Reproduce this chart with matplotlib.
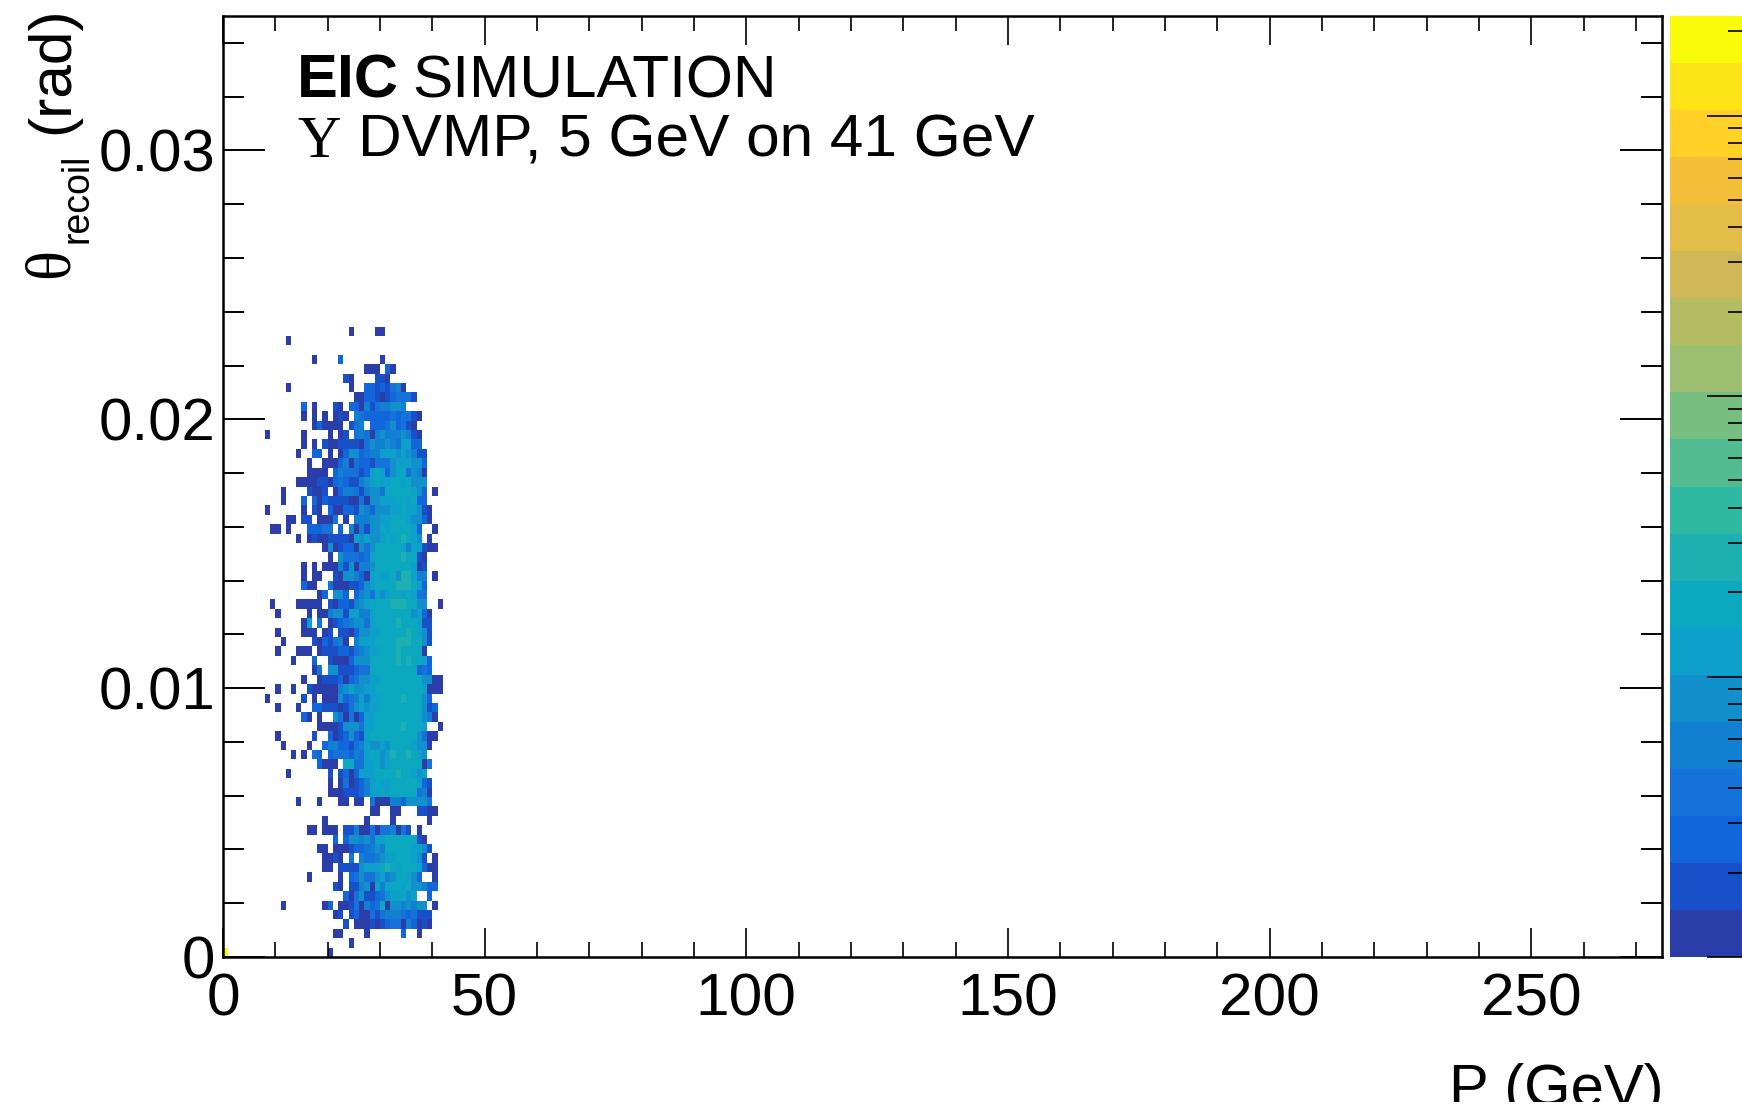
import numpy as np
import matplotlib
matplotlib.use('Agg')
from matplotlib import pyplot as plt
from matplotlib.colors import ListedColormap, BoundaryNorm
from matplotlib.transforms import Bbox, TransformedBbox

W, H = 1742, 1115

# Band colours of the palette, bottom to top
band_colors = ['#2a3da8', '#1750c8', '#1266dc', '#1472d8', '#1280d0',
               '#1290cc', '#0ca0ca', '#0ca8c0', '#1eb0b0', '#2fb8a2',
               '#52bc90', '#78be80', '#9cbe70', '#b4bc62', '#d0b858',
               '#e4bc48', '#f4bf38', '#ffd028', '#fce418', '#f9f90a']
z_max = 2265

# Counts that each symbol in the rows stands for
counts_of_symbol = {'0': 1, '1': 2, '2': 3, '3': 4, '4': 6,
                    '5': 8, '6': 11, '7': 15, '8': 18, '9': 27}

# Hits, top row first. Columns are P = 8..42 GeV
first_col = 8
rows = [
    '..... ..... ..... .0... .00.. ..... .....',  # 66
    '....0 ..... ..... ..... ..... ..... .....',
    '..... ..... ..... ..... ..... ..... .....',
    '..... ....0 ....2 ..... ..0.. ..... .....',
    '..... ..... ..... ....0 00.20 ..... .....',
    '..... ..... ..... 10... .110. ..... .....',
    '....0 ..... ..... .0..2 21213 40... .....',  # 60
    '..... ..... ..... ..002 21012 3331. .....',
    '..... ..2.0 ...10 .2204 13445 54... .....',
    '..... ..0.0 .0.01 0.432 22223 23310 .....',
    '..... ....0 20000 .134. 22235 2310. .....',
    '0.... ..0.. ..0.0 1.343 04544 45410 .....',
    '..... ..0.0 .1001 11103 54454 36622 .....',
    '..... .0..2 2.0.0 25523 44666 56541 1....',
    '..... ...0. .0002 40322 13335 66655 2....',
    '..... ...00 00.24 33312 67625 67354 0....',
    '..... .0000 11023 21145 67667 86755 5....',  # 50
    '...0. ...10 01.02 44314 55377 77765 2.0..',
    '...0. ..2.2 02111 10030 55666 77672 2....',
    '0.... ..0.1 0.200 22154 25556 67665 10...',
    '....0 0.11. 0003. 0.444 55667 77655 20...',
    '.00.0 ...22 233.2 .4041 55867 77762 ..0..',
    '..... .0.01 00111 10656 55686 79765 .0...',
    '..... ..... .0501 22053 57787 86466 100..',
    '..... ..... ..0.5 33323 67788 89871 0....',
    '..... ..0.0 .0004 15044 57877 88760 1....',
    '..... ..0.0 0..10 55420 67668 59964 4.0..',  # 40
    '..... ..200 ..300 01125 68778 99976 2....',
    '..... ..... 02.55 2.245 36567 86763 3....',
    '.0... .0000 0.102 21456 77879 99875 5..0.',
    '..0.. ...0. 00455 16644 67778 78756 20...',
    '..... ..06. 3.012 34553 67788 98876 11...',
    '..0.. ..000 .01.1 10255 66778 87976 51...',
    '...0. ....1 02134 0.466 67778 99987 51...',
    '..0.. .000. 01112 21345 66778 98887 0....',
    '..... 0...2 ..100 02555 77788 98987 62...',
    '..... ....0 3.551 11233 77877 88872 32...',  # 30
    '..... ..0.. 01112 02355 66778 88877 5500.',
    '..0.. 0..10 00004 56556 67787 88877 6000.',
    '0.... ..1.0 .0005 23464 66787 89877 52...',
    '..0.. .0..2 21110 13565 66778 88877 512..',
    '..... ..20. 0..53 03026 67778 88877 540..',
    '..... ..... 00001 55536 67788 89877 6..0.',
    '..0.. ....1 ..201 25216 77778 88775 300..',
    '...0. ...0. .2442 21346 55657 77865 50...',
    '..... 0.0.3 2.233 32436 77569 88976 5....',
    '..... ..... 2000. 77336 67568 88877 03...',  # 20
    '....0 ..... ..1.1 20266 67877 98765 6....',
    '..... ..... ..0.0 30124 67668 88876 21...',
    '..... ..... ..000 11124 66767 78873 40...',
    '..... .0... 0...0 0.00. 30004 42555 53...',
    '..... ..... ..... ..... 00..0 0...1 100..',
    '..... ..... .0... ....0 ....0 ..... .0...',
    '..... ...00 .000. 11400 30334 031.0 .....',
    '..... ..... ...2. 25545 36677 88871 0....',
    '..... ..... 00.00 01223 45477 88766 51...',
    '..... ..... .0010 .3.43 34566 78765 1.0..',  # 10
    '..... ..... .00.1 11156 66798 67776 200..',
    '..... ...0. ....0 .2353 35645 77652 ..0..',
    '..... ..... ...10 .1145 06467 76855 422..',
    '..... ..... ..... 20351 12356 6756. .2...',
    '...0. ..... .02.0 01304 23705 54545 5.0..',
    '..... ..... ...01 .1200 31344 43231 11...',
    '..... ..... ..... 1.000 10123 30420 10...',
    '..... ..... ...00 ....0 ..... .2..0 .....',
    '..... ..... ..... .0... ..... ..... .....',
    '..... ..... ..0.. ..... ..... ..... .....',  # 0
]
corner_count = 2200  # the single bin at P = 0, theta = 0

x_edges = np.arange(276)
y_edges = np.linspace(0, 0.035, 101)

hist = np.full((100, 275), np.nan)
for i, row in enumerate(rows):
    row = row.replace(' ', '')
    assert len(row) == 35
    for j, ch in enumerate(row):
        if ch != '.':
            hist[len(rows) - 1 - i, first_col + j] = counts_of_symbol[ch]
hist[0, 0] = corner_count

plt.rcParams['font.family'] = ['Liberation Sans', 'DejaVu Sans']

cmap = ListedColormap(band_colors)
bounds = np.logspace(0, np.log10(z_max), 21)
norm = BoundaryNorm(bounds, 20)

fig = plt.figure(figsize=(W / 100, H / 100), dpi=100, facecolor='white')

# Main pad
left, right, top, bottom = 223, 1662, 16, 957
ax = fig.add_axes([left / W, 1 - bottom / H, (right - left) / W, (bottom - top) / H])
ax.pcolormesh(x_edges, y_edges, np.ma.masked_invalid(hist), cmap=cmap, norm=norm,
              antialiased=False, linewidth=0)
ax.set_xlim(0, 275)
ax.set_ylim(0, 0.035)
ax.set_xticks(np.arange(0, 251, 50))
ax.set_xticks(np.arange(0, 275, 10), minor=True)
ax.set_yticks([0, 0.01, 0.02, 0.03])
ax.set_yticks(np.arange(0, 0.0345, 0.002), minor=True)
ax.set_yticklabels(['0', '0.01', '0.02', '0.03'])
ax.tick_params(axis='x', which='major', direction='in', top=True, length=21, width=1.2,
               labelsize=43.5, pad=11)
ax.tick_params(axis='x', which='minor', direction='in', top=True, length=10.5, width=1.2)
ax.tick_params(axis='y', which='major', direction='in', right=True, length=30, width=1.4,
               labelsize=43, pad=5.5)
ax.tick_params(axis='y', which='minor', direction='in', right=True, length=15, width=1.4)
for s in ax.spines.values():
    s.set_linewidth(1.8)


def put(x, y, s, **kw):
    return fig.text(x / W, 1 - y / H, s, va='baseline', **kw)


# Labels inside the pad
put(297, 97, 'EIC', fontsize=44, fontweight='bold')
put(412, 97, 'SIMULATION', fontsize=43.5)
put(297, 157, '\u03a5', fontsize=43.5, family='Liberation Serif')
put(358, 157, 'DVMP, 5 GeV on 41 GeV', fontsize=43.5)

# Y title in three pieces
rot = dict(rotation=90, rotation_mode='anchor', ha='left')
put(68, 278, '\u03b8', fontsize=45, family='Liberation Serif', **rot)
put(87, 243, 'recoil', fontsize=27, **rot)
put(68, 134, '(rad)', fontsize=43.5, **rot)

# X title is cut off by the canvas
xt = put(1664, 1106, 'P (GeV)', fontsize=43, ha='right')
xt.set_clip_box(TransformedBbox(Bbox([[0, 13 / H], [1, 1]]), fig.transFigure))
xt.set_clip_on(True)

# Palette, runs past the right edge of the canvas
cax = fig.add_axes([1670 / W, 1 - bottom / H, (W - 1670) / W, (bottom - top) / H])
cax.pcolormesh([0, 1], bounds, np.arange(20).reshape(-1, 1), cmap=cmap,
               vmin=-0.5, vmax=19.5, antialiased=False, linewidth=0)
cax.set_yscale('log')
cax.set_ylim(1, z_max)
cax.set_xticks([])
cax.yaxis.tick_right()
cax.set_yticks([1, 10, 100, 1000])
cax.set_yticks([m * d for d in (1, 10, 100, 1000) for m in range(2, 10) if m * d < z_max], minor=True)
cax.set_yticklabels([])
cax.set_yticklabels([], minor=True)
cax.tick_params(axis='y', which='major', direction='in', length=25, width=1.2, color='black')
cax.tick_params(axis='y', which='minor', direction='in', length=10, width=1.2, color='black')
for s in cax.spines.values():
    s.set_visible(False)

fig.savefig('out.png', dpi=100)
